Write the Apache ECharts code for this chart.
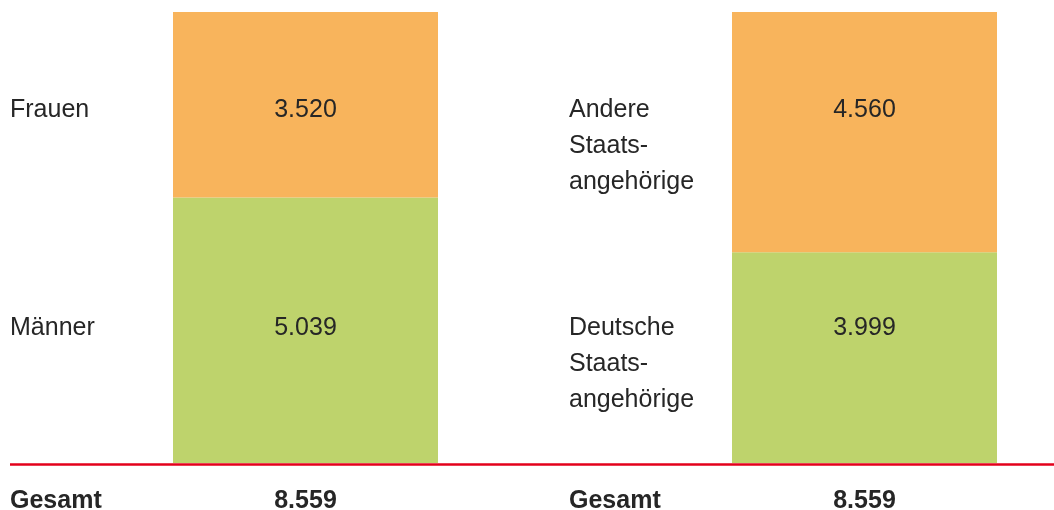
<!DOCTYPE html>
<html lang="de">
<head>
	<meta charset="UTF-8">
	<title>Gesamt</title>
	<style type="text/css">
	body,html{
		width: 100%;
		height: 100%;
		margin: 0;
		padding: 0;
		background: #fff;
	}
	#container{
		width: 1054px;
		height: 510px;
	}
	</style>
</head>
<body>
<div id="container"></div>
<script type="text/javascript" src="https://cdn.jsdelivr.net/npm/echarts@6/dist/echarts.min.js"></script>
<script type="text/javascript">
// daten
var leftNames = ['Männer', 'Frauen'];
var leftValues = [5039, 3520];
var rightNames = ['Deutsche\nStaats-\nangehörige', 'Andere\nStaats-\nangehörige'];
var rightValues = [3999, 4560];
var totalLabel = 'Gesamt';

var colors = ['#bed36c', '#f8b45c'];
var textColor = '#262626';
var font = 'Liberation Sans';

function fmt(v) {
	return String(v).replace(/\B(?=(\d{3})+(?!\d))/g, '.');
}
function sum(arr) {
	return arr.reduce(function (a, b) { return a + b; }, 0);
}

var grids = [
	{ left: 173, width: 265, top: 12, bottom: 47, outerBoundsMode: 'none', containLabel: false },
	{ left: 732, width: 265, top: 12, bottom: 47, outerBoundsMode: 'none', containLabel: false }
];
var allValues = [leftValues, rightValues];
var allNames = [leftNames, rightNames];

var xAxes = [], yAxes = [], series = [], graphics = [];
allValues.forEach(function (vals, g) {
	xAxes.push({
		type: 'category',
		gridIndex: g,
		data: [fmt(sum(vals))],
		axisLine: { show: false },
		axisTick: { show: false },
		axisLabel: {
			margin: 26,
			color: textColor,
			fontFamily: font,
			fontSize: 25,
			fontWeight: 'bold'
		}
	});
	yAxes.push({
		type: 'value',
		gridIndex: g,
		min: 0,
		max: sum(vals),
		show: false
	});
	vals.forEach(function (v, i) {
		// unten: Abstand vom Boden, oben: Abstand von der Oberkante
		var lab = i === 0
			? { position: ['50%', '100%'], offset: [0, -135] }
			: { position: ['50%', 0], offset: [0, 98] };
		series.push({
			type: 'bar',
			name: allNames[g][i],
			xAxisIndex: g,
			yAxisIndex: g,
			stack: 's' + g,
			barWidth: '100%',
			itemStyle: { color: colors[i] },
			label: {
				show: true,
				position: lab.position,
				offset: lab.offset,
				align: 'center',
				verticalAlign: 'middle',
				color: textColor,
				fontFamily: font,
				fontSize: 25,
				formatter: function (p) { return fmt(p.value); }
			},
			silent: true,
			data: [v]
		});
		graphics.push({
			type: 'text',
			left: grids[g].left - 163,
			top: i === 0 ? 310 : 92,
			style: {
				text: allNames[g][i],
				fill: textColor,
				font: '25px "' + font + '"',
				lineHeight: 36
			}
		});
	});
	graphics.push({
		type: 'text',
		left: grids[g].left - 163,
		top: 489,
		style: {
			text: totalLabel,
			fill: textColor,
			font: 'bold 25px "' + font + '"'
		}
	});
});

graphics.push({
	type: 'line',
	shape: { x1: 10, y1: 464.5, x2: 1054, y2: 464.5 },
	style: { stroke: '#e3001b', lineWidth: 2.5 }
});

var option = {
	animation: false,
	grid: grids,
	xAxis: xAxes,
	yAxis: yAxes,
	series: series,
	graphic: graphics
};
var chart = echarts.init(document.getElementById('container'));
chart.setOption(option);
</script>
</body>
</html>
